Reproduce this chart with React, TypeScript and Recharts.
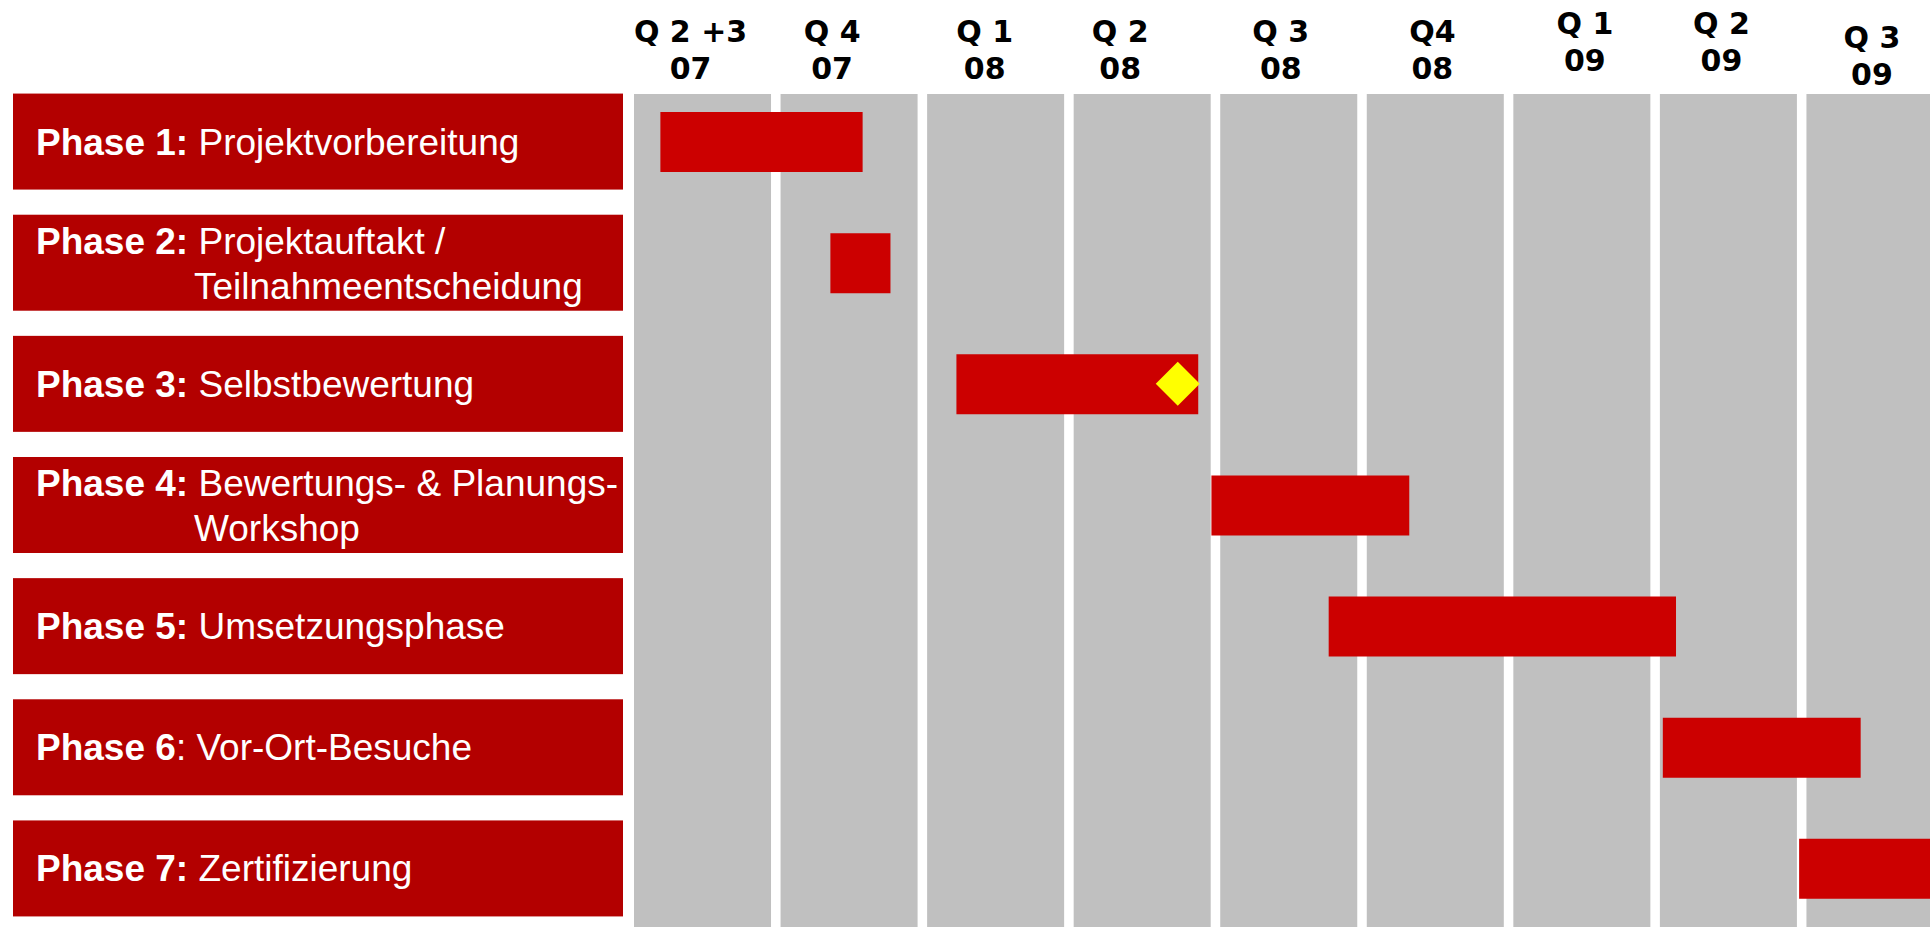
import React from "react";
import { ComposedChart, Bar, Scatter, XAxis, YAxis, ReferenceArea } from "recharts";

// quarter header, two lines each
const QUARTER_TOP = ["Q 2 +3", "Q 4", "Q 1", "Q 2", "Q 3", "Q4", "Q 1", "Q 2", "Q 3"];
const QUARTER_YEAR = ["07", "07", "08", "08", "08", "08", "09", "09", "09"];

const PHASE_NO = ["Phase 1:", "Phase 2:", "Phase 3:", "Phase 4:", "Phase 5:", "Phase 6", "Phase 7:"];
const PHASE_TITLE = [
  ["Projektvorbereitung"],
  ["Projektauftakt /", "Teilnahmeentscheidung"],
  ["Selbstbewertung"],
  ["Bewertungs- & Planungs-", "Workshop"],
  ["Umsetzungsphase"],
  [": Vor-Ort-Besuche"],
  ["Zertifizierung"],
];

// start / end in quarters (0 = start of first column)
const PHASE_START = [0.18, 1.34, 2.2, 3.94, 4.74, 7.02, 7.95];
const PHASE_END = [1.56, 1.75, 3.85, 5.29, 7.11, 8.37, 9.0];
const MILESTONE = [null, null, 3.71, null, null, null, null];

// the header labels are not perfectly aligned in the original
const HEADER_DX = [-5, -10, -4, -15, -1, 4, 10, 0, 4];
const HEADER_DY = [0, 0, 0, 0, 0, 0, -8, -8, 6];

const COL_WIDTH = 0.935;
const TICK_POS = 0.42;
const LABEL_FONT = "'Liberation Sans', Arial, sans-serif";

const rows = PHASE_NO.map((p, i) => ({
  phase: p,
  range: [PHASE_START[i], PHASE_END[i]],
  milestone: MILESTONE[i],
}));

const HeaderTick = (props: any) => {
  const { x, y, payload } = props;
  const i = Math.round(payload.value - TICK_POS);
  const cx = x + (HEADER_DX[i] || 0);
  const dy = HEADER_DY[i] || 0;
  return (
    <text
      x={cx}
      y={y - 50 + dy}
      textAnchor="middle"
      fontFamily="'DejaVu Sans', sans-serif"
      fontWeight="bold"
      fontSize={30}
      fill="#000"
    >
      <tspan x={cx}>{QUARTER_TOP[i]}</tspan>
      <tspan x={cx} dy={37}>{QUARTER_YEAR[i]}</tspan>
    </text>
  );
};

const PhaseTick = (props: any) => {
  const { y, payload } = props;
  const i = PHASE_NO.indexOf(payload.value);
  const lines = PHASE_TITLE[i] || [""];
  const two = lines.length > 1;
  const base = two ? y - 9 : y + 13;
  return (
    <g>
      <rect x={13} y={y - 48} width={610} height={96} fill="#b30000" />
      <text x={36} y={base} fontFamily={LABEL_FONT} fontSize={37} fill="#fff">
        <tspan fontWeight="bold">{payload.value}</tspan>
        <tspan>{(lines[0].startsWith(":") ? "" : " ") + lines[0]}</tspan>
        {two && (
          <tspan x={194} dy={45}>
            {lines[1]}
          </tspan>
        )}
      </text>
    </g>
  );
};

const Diamond = (props: any) => {
  const { cx, cy, payload } = props;
  if (payload == null || payload.milestone == null || !isFinite(cx) || !isFinite(cy)) return null;
  const r = 22;
  return <polygon points={`${cx},${cy - r} ${cx + r},${cy} ${cx},${cy + r} ${cx - r},${cy}`} fill="#ffff00" />;
};

export default function App() {
  return (
    <div style={{ position: "absolute", left: 0, top: 0, width: 1930, height: 927, overflow: "hidden", background: "#fff" }}>
      <ComposedChart
        width={1953}
        height={946}
        data={rows}
        layout="vertical"
        margin={{ top: 0, right: 0, bottom: 0, left: 0 }}
      >
        <XAxis
          type="number"
          orientation="top"
          domain={[0, 9]}
          ticks={QUARTER_TOP.map((_, i) => i + TICK_POS)}
          interval={0}
          height={94}
          axisLine={false}
          tickLine={false}
          tickSize={0}
          tick={<HeaderTick />}
          allowDataOverflow
        />
        <YAxis
          type="category"
          dataKey="phase"
          width={634}
          axisLine={false}
          tickLine={false}
          interval={0}
          tick={<PhaseTick />}
          padding={{ top: -13, bottom: 17 }}
        />
        {QUARTER_TOP.map((q, i) => (
          <ReferenceArea
            key={i}
            x1={i}
            x2={i + COL_WIDTH}
            fill="#c0c0c0"
            fillOpacity={1}
            stroke="none"
            ifOverflow="hidden"
          />
        ))}
        <Bar dataKey="range" fill="#cc0000" barSize={60} isAnimationActive={false} />
        <Scatter dataKey="milestone" shape={Diamond} isAnimationActive={false} />
      </ComposedChart>
    </div>
  );
}
